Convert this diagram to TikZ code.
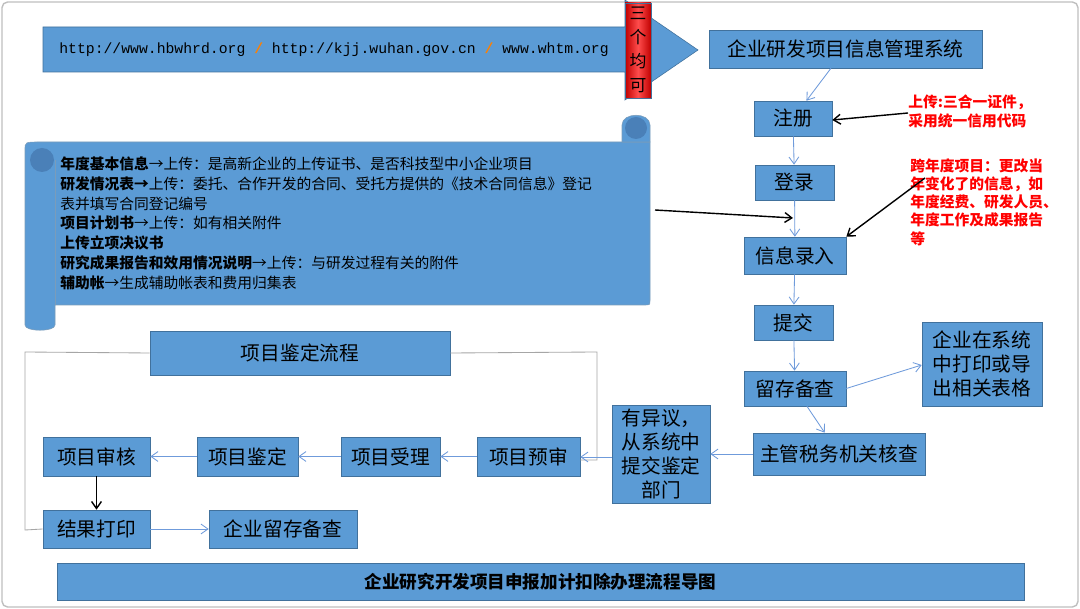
\documentclass[tikz,border=0pt]{standalone}
\usepackage{fontspec}
\setmainfont{Noto Sans CJK SC}
\newfontfamily\urlfont{Liberation Mono}
\usetikzlibrary{arrows.meta,positioning}
\definecolor{bfill}{HTML}{5B9BD5}
\definecolor{bline}{HTML}{41719C}
\definecolor{arr}{HTML}{6F9BDB}
\definecolor{scrollD}{HTML}{4A80B8}
\tikzset{
 box/.style={draw=bline,fill=bfill,inner sep=0pt,font=\fontsize{14}{17}\selectfont,align=center},
 flow/.style={draw=arr,-{Straight Barb[length=5pt,width=7pt]},line width=0.6pt},
 blk/.style={draw=black,-{Straight Barb[length=5pt,width=7pt]},line width=1pt},
 gline/.style={draw=gray!70,line width=0.6pt},
 redt/.style={text=red,font=\bfseries\fontsize{10.5}{13}\selectfont,align=left,anchor=north west,inner sep=0pt}
}
\newcommand\bx[6]{\node[box,minimum width={(#4-#2)*0.025cm},minimum height={(#5-#3)*0.025cm}] (#1) at ({(#2+#4)/2},{(#3+#5)/2}) {#6};}
\begin{document}
\begin{tikzpicture}[x=0.025cm,y=-0.025cm]
\useasboundingbox (0,0) rectangle (1080,609);
\draw[gray!50,line width=1pt,rounded corners=4pt,fill=white] (2,2) rectangle (1078,607);
% big arrow
\fill[bfill,draw=bline] (43,27) -- (625,27) -- (625,0) -- (698,50) -- (625,100) -- (625,72) -- (43,72) -- cycle;
\node[inner sep=0pt,font=\urlfont\fontsize{10.5}{12}\selectfont] (url) at (334,50) {http://www.hbwhrd.org \textcolor{orange}{\bfseries/} http://kjj.wuhan.gov.cn \textcolor{orange}{\bfseries/} www.whtm.org};
\shade[left color=red!75!black,right color=red!75!black,middle color=red!70!white,draw=bline] (625,3) rectangle (651,98);
\node[inner sep=0pt,align=center,font=\fontsize{12}{17}\selectfont] (sg) at (638,50) {三\\个\\均\\可};
% scroll
\fill[bfill,draw=bline!70] (40,142) -- (650,142) -- (650,300) .. controls (650,305) .. (645,305) -- (55,305) -- (55,325) .. controls (55,332) and (25,332) .. (25,325) -- (25,150) .. controls (25,142) .. (40,142) -- cycle;
\fill[bfill,draw=bline!70] (622,142) -- (622,125) .. controls (622,112) and (650,112) .. (650,125) -- (650,142) -- cycle;
\fill[scrollD] (636,128) circle (11);
\fill[scrollD] (42,160) circle (12);
\draw[bline!70] (55,160) -- (55,305);
\node[inner sep=0pt,anchor=north west,align=left,font=\fontsize{10.5}{14.2}\selectfont] (scr) at (60,156) {%
\textbf{年度基本信息}→上传：是高新企业的上传证书、是否科技型中小企业项目\\
\textbf{研发情况表→}上传：委托、合作开发的合同、受托方提供的《技术合同信息》登记\\
表并填写合同登记编号\\
\textbf{项目计划书}→上传：如有相关附件\\
\textbf{上传立项决议书}\\
\textbf{研究成果报告和效用情况说明}→上传：与研发过程有关的附件\\
\textbf{辅助帐}→生成辅助帐表和费用归集表};
% boxes
\bx{sys}{709}{30}{982}{68}{企业研发项目信息管理系统}
\bx{zc}{754}{101}{832}{136}{注册}
\bx{dl}{755}{165}{834}{200}{登录}
\bx{xx}{744}{237}{846}{274}{信息录入}
\bx{tj}{754}{305}{833}{340}{提交}
\bx{lc}{744}{371}{846}{406}{留存备查}
\bx{dy}{922}{322}{1042}{406}{企业在系统\\中打印或导\\出相关表格}
\bx{zg}{753}{433}{925}{475}{主管税务机关核查}
\bx{yy}{612}{405}{710}{503}{有异议，\\从系统中\\提交鉴定\\部门}
\bx{ys}{477}{437}{580}{476}{项目预审}
\bx{sl}{341}{437}{440}{476}{项目受理}
\bx{jd}{197}{437}{298}{476}{项目鉴定}
\bx{sh}{43}{437}{150}{476}{项目审核}
\bx{jg}{43}{510}{150}{548}{结果打印}
\bx{qy}{209}{510}{357}{548}{企业留存备查}
\bx{lcx}{150}{331}{450}{375}{项目鉴定流程}
\node[box,font=\bfseries\fontsize{12.5}{15}\selectfont,minimum width={967*0.025cm},minimum height={37*0.025cm}] (title) at (540.5,581.5) {企业研究开发项目申报加计扣除办理流程导图};
% gray frame lines
\coordinate (g1) at (25,352); \coordinate (g2) at (25,530);
\coordinate (g3) at (597,352); \coordinate (g4) at (597,460);
\draw[gline] (lcx.west) -- (g1) -- (g2) -- (jg.west);
\draw[gline] (lcx.east) -- (g3) -- (g4) -- (ys.east |- g4);
% flow arrows
\draw[flow] (sys) -- (zc);
\draw[flow] (zc) -- (dl);
\draw[flow] (dl) -- (xx);
\draw[flow] (xx) -- (tj);
\draw[flow] (tj) -- (lc);
\draw[flow] (lc) -- (zg);
\draw[flow] (lc.east) -- (dy.west |- 0,365);
\draw[flow] (zg.west) -- (yy.east |- zg.west);
\draw[flow] (yy.west |- 0,457) -- (ys.east |- 0,457);
\draw[flow] (ys) -- (sl);
\draw[flow] (sl) -- (jd);
\draw[flow] (jd) -- (sh);
\draw[flow] (jg) -- (qy);
\draw[blk] (sh) -- (jg);
% red notes
\node[redt] (r1) at (908,95) {上传:三合一证件，\\采用统一信用代码};
\node[redt] (r2) at (910,158) {跨年度项目：更改当\\年变化了的信息，如\\年度经费、研发人员、\\年度工作及成果报告\\等};
\coordinate (s1) at (655,210);
\coordinate (s2) at (793,218);
\draw[blk] (r1.west |- 0,113) -- (zc.east |- 0,120);
\draw[blk] (s1) -- (s2);
\draw[blk] (925,178) -- (xx.north east);
\end{tikzpicture}
\end{document}
